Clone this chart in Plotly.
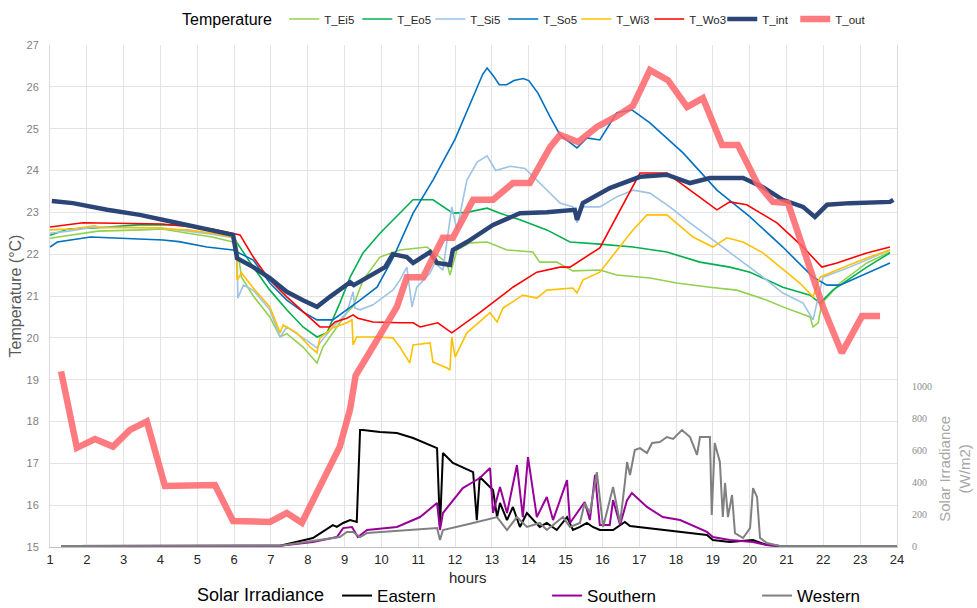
import plotly.graph_objects as go

# ---------------- data (hours of day) ----------------
h_ei5 = [1.0, 1.5, 2.3, 3.5, 4.04, 4.75, 5.4, 5.94, 6.08, 6.2, 6.52, 6.97, 7.25, 7.43, 7.87, 8.25, 8.41, 8.79,
         9.06, 9.23, 9.5, 9.96, 10.5, 11.24, 11.4, 11.78, 11.86, 12.05, 12.4, 12.87, 13.41, 14.11, 14.3, 14.76,
         15.2, 15.93, 16.39, 17.29, 18.02, 18.92, 19.65, 20.47, 20.9, 21.64, 21.72, 21.86, 21.96, 22.45, 23.18, 23.81]
t_ei5 = [22.38, 22.45, 22.55, 22.58, 22.6, 22.5, 22.41, 22.3, 22.2, 21.45, 21.0, 20.5, 20.02, 20.1, 19.78, 19.4, 19.78, 20.26,
         20.6, 20.75, 21.38, 21.93, 22.1, 22.17, 22.05, 21.79, 21.5, 22.1, 22.27, 22.29, 22.1, 22.05, 21.81, 21.81,
         21.6, 21.62, 21.5, 21.43, 21.31, 21.21, 21.14, 20.9, 20.74, 20.5, 20.26, 20.36, 20.83, 21.31, 21.79, 22.05]

h_eo5 = [1.0, 1.5, 2.3, 3.4, 4.7, 5.1, 5.6, 5.97, 6.08, 6.52, 6.97, 7.43, 7.87, 8.25, 8.52, 8.87, 9.15, 9.5, 9.96, 10.31,
         10.86, 11.4, 11.94, 12.32, 12.87, 13.22, 13.76, 14.49, 15.12, 15.93, 16.83, 17.75, 18.65, 19.46, 20.01, 20.9,
         21.64, 21.91, 22.26, 23.18, 23.81]
t_eo5 = [22.45, 22.6, 22.63, 22.7, 22.7, 22.6, 22.55, 22.45, 22.27, 21.69, 21.14, 20.67, 20.26, 20.02, 20.12, 20.83, 21.45,
         22.03, 22.5, 22.82, 23.3, 23.3, 22.98, 23.0, 23.1, 22.98, 22.82, 22.58, 22.29, 22.24, 22.17, 22.05, 21.81, 21.69,
         21.57, 21.21, 21.02, 20.83, 21.14, 21.69, 22.03]

h_si5 = [1.0, 1.5, 2.2, 4.0, 4.75, 5.4, 5.94, 6.08, 6.1, 6.25, 6.52, 6.97, 7.25, 7.43, 7.87, 8.25, 8.33, 8.68, 9.06, 9.23,
         9.28, 9.42, 9.77, 10.31, 10.5, 10.69, 10.83, 10.96, 11.32, 11.45, 11.67, 11.81, 11.91, 12.05, 12.32, 12.6, 12.87,
         13.1, 13.5, 13.9, 14.22, 14.49, 14.85, 15.2, 15.31, 15.47, 15.93, 16.39, 16.83, 17.29, 17.83, 18.38, 19.11, 19.65,
         20.36, 20.9, 21.45, 21.72, 21.83, 21.99, 22.72, 23.81]
t_si5 = [22.5, 22.55, 22.65, 22.63, 22.55, 22.48, 22.4, 22.17, 20.95, 21.26, 21.14, 20.67, 20.02, 20.26, 20.0, 19.76, 19.88,
         20.26, 20.6, 21.1, 20.71, 20.67, 20.79, 21.14, 21.38, 21.69, 20.74, 21.21, 21.55, 21.79, 21.62, 22.58, 23.13, 22.58,
         23.77, 24.2, 24.35, 24.0, 24.1, 24.05, 23.77, 23.53, 23.22, 23.13, 22.75, 23.13, 23.13, 23.37, 23.53, 23.46, 23.13,
         22.75, 22.27, 21.93, 21.45, 21.07, 20.83, 20.43, 20.83, 21.45, 21.69, 22.1]

h_so5 = [1.0, 1.2, 2.1, 4.07, 4.5, 5.26, 5.97, 6.52, 6.97, 7.43, 7.87, 8.25, 8.68, 9.06, 9.42, 9.88, 10.31, 10.86, 11.4,
         12.0, 12.4, 12.75, 12.87, 13.05, 13.2, 13.4, 13.6, 13.85, 14.0, 14.25, 14.58, 14.85, 15.31, 15.58, 15.93, 16.39,
         16.8, 17.29, 18.19, 19.11, 20.01, 20.9, 21.72, 22.1, 22.45, 23.18, 23.81]
t_so5 = [22.17, 22.29, 22.41, 22.34, 22.3, 22.17, 22.1, 21.86, 21.31, 20.9, 20.62, 20.43, 20.43, 20.67, 20.9, 21.21, 21.9,
         22.98, 23.77, 24.75, 25.6, 26.3, 26.45, 26.25, 26.05, 26.05, 26.15, 26.2, 26.15, 25.85, 25.28, 24.85, 24.54, 24.78,
         24.73, 25.38, 25.45, 25.14, 24.42, 23.53, 22.89, 22.17, 21.45, 21.26, 21.26, 21.55, 21.79]

h_wi3 = [1.0, 1.6, 2.2, 2.4, 4.04, 4.1, 4.75, 5.4, 5.94, 6.06, 6.08, 6.2, 6.52, 6.97, 7.25, 7.33, 7.7, 8.06, 8.25, 8.33,
         8.68, 9.06, 9.2, 9.23, 9.33, 9.88, 10.31, 10.5, 10.77, 10.86, 11.32, 11.4, 11.78, 11.86, 11.91, 12.0, 12.32, 12.95,
         13.14, 13.3, 13.84, 14.22, 14.49, 15.2, 15.31, 15.47, 15.93, 16.39, 16.83, 17.21, 17.75, 18.46, 19.0, 19.38, 19.82,
         20.36, 20.82, 21.36, 21.72, 21.91, 22.37, 23.18, 23.81]
t_wi3 = [22.58, 22.6, 22.68, 22.63, 22.63, 22.6, 22.58, 22.5, 22.41, 22.29, 21.38, 21.55, 21.19, 20.74, 20.12, 20.31, 20.12,
         19.78, 19.64, 20.0, 20.24, 20.36, 20.43, 19.83, 20.02, 20.02, 20.0, 19.78, 19.4, 19.83, 19.88, 19.42, 19.28, 19.23,
         20.02, 19.54, 20.12, 20.6, 20.38, 20.71, 21.02, 20.95, 21.14, 21.19, 21.07, 21.38, 21.57, 22.1, 22.58, 22.94, 22.94,
         22.41, 22.17, 22.39, 22.29, 22.03, 21.69, 21.31, 20.98, 21.45, 21.62, 21.91, 22.1]

h_wo3 = [1.0, 1.9, 4.04, 4.75, 5.4, 5.94, 6.16, 6.52, 6.97, 7.43, 7.87, 8.33, 8.6, 8.74, 9.06, 9.23, 9.36, 9.77, 10.5,
         10.86, 11.05, 11.53, 11.91, 12.67, 13.57, 14.22, 14.85, 15.12, 15.93, 16.39, 17.02, 17.75, 18.38, 19.11, 19.46,
         19.92, 20.74, 21.45, 21.96, 22.37, 23.18, 23.81]
t_wo3 = [22.65, 22.75, 22.72, 22.65, 22.6, 22.5, 22.46, 21.93, 21.38, 20.98, 20.62, 20.26, 20.26, 20.38, 20.47, 20.55,
         20.47, 20.38, 20.36, 20.36, 20.26, 20.36, 20.12, 20.6, 21.21, 21.57, 21.69, 21.69, 22.15, 22.89, 23.94, 23.94,
         23.53, 23.06, 23.25, 23.18, 22.75, 22.17, 21.69, 21.79, 22.03, 22.17]

h_int = [1.05, 1.62, 2.55, 3.44, 4.34, 5.26, 5.97, 6.08, 6.52, 6.97, 7.43, 7.87, 8.25, 8.6, 9.15, 9.25, 9.6, 10.1, 10.31,
         10.69, 10.86, 11.32, 11.51, 11.86, 11.94, 12.32, 13.03, 13.76, 14.49, 15.25, 15.31, 15.47, 16.2, 17.02, 17.75,
         18.38, 18.92, 19.82, 20.36, 20.9, 21.45, 21.77, 22.1, 22.72, 23.81, 23.9]
t_int = [23.27, 23.22, 23.06, 22.94, 22.77, 22.58, 22.46, 21.9, 21.69, 21.43, 21.1, 20.9, 20.74, 20.98, 21.33, 21.26,
         21.43, 21.69, 22.0, 21.93, 21.79, 22.05, 21.79, 21.74, 22.1, 22.29, 22.7, 22.98, 23.0, 23.06, 22.82, 23.22, 23.58,
         23.85, 23.9, 23.7, 23.82, 23.82, 23.6, 23.3, 23.13, 22.89, 23.18, 23.22, 23.25, 23.3]

h_out = [1.3, 1.73, 2.22, 2.71, 3.17, 3.63, 4.12, 5.48, 5.97, 6.97, 7.43, 7.84, 8.87, 9.15, 9.3, 9.88, 10.42, 10.69,
         11.13, 11.67, 11.94, 12.49, 13.03, 13.57, 14.03, 14.58, 14.85, 15.34, 15.85, 16.39, 16.83, 17.29, 17.78, 18.3,
         18.73, 19.25, 19.68, 20.2, 20.63, 21.04, 21.55, 21.99, 22.5, 23.05, 23.54]
t_out = [19.2, 17.37, 17.58, 17.4, 17.8, 18.0, 16.46, 16.48, 15.62, 15.6, 15.81, 15.58, 17.4, 18.3, 19.1, 19.95, 20.74,
         21.45, 21.45, 22.39, 22.39, 23.3, 23.3, 23.7, 23.7, 24.56, 24.85, 24.68, 25.04, 25.3, 25.55, 26.4, 26.16, 25.52,
         25.73, 24.61, 24.61, 23.7, 23.25, 23.22, 21.93, 20.74, 19.64, 20.52, 20.52]

h_east = [1.3, 7.0, 7.25, 8.14, 8.68, 8.79, 8.96, 9.15, 9.33, 9.42, 9.5, 9.96, 10.42, 10.86, 11.51, 11.59, 11.67, 11.94,
          12.4, 12.49, 12.59, 12.67, 13.03, 13.14, 13.22, 13.41, 13.57, 13.76, 13.95, 14.3, 14.49, 14.76, 15.04, 15.2,
          15.39, 15.58, 15.74, 15.93, 16.29, 16.61, 16.75, 17.21, 18.11, 18.84, 19.0, 19.46, 20.09, 20.47, 20.82, 24.0]
irr_east = [0, 0, 2, 50, 131, 119, 144, 162, 150, 725, 725, 712, 706, 675, 612, 119, 581, 519, 475, 462, 162, 431, 350,
            181, 269, 162, 244, 119, 206, 119, 144, 100, 181, 100, 119, 144, 119, 100, 100, 150, 125, 112, 88, 69, 37,
            25, 37, 6, 0, 0]

h_south = [1.3, 7.0, 7.25, 8.14, 8.79, 8.96, 9.2, 9.36, 9.61, 10.42, 11.05, 11.51, 11.59, 11.67, 12.21, 12.49, 12.67,
           12.95, 13.03, 13.22, 13.41, 13.68, 13.84, 13.98, 14.22, 14.49, 14.66, 15.04, 15.12, 15.52, 15.66, 15.8, 15.93,
           16.2, 16.29, 16.48, 16.67, 16.8, 17.21, 17.64, 18.11, 18.84, 19.0, 19.46, 20.09, 20.47, 20.82, 24.0]
irr_south = [0, 0, 2, 25, 56, 112, 119, 56, 100, 119, 181, 269, 100, 206, 362, 400, 425, 487, 206, 369, 206, 506, 181,
             556, 181, 306, 162, 412, 144, 275, 162, 444, 131, 131, 287, 131, 287, 331, 244, 181, 162, 88, 56, 37, 25,
             6, 0, 0]

h_west = [1.3, 7.0, 7.25, 8.87, 9.06, 9.23, 9.42, 9.61, 11.51, 11.59, 11.67, 12.49, 13.14, 13.41, 13.68, 13.95, 14.3,
          14.49, 14.93, 15.12, 15.39, 15.52, 15.66, 15.85, 16.02, 16.29, 16.48, 16.61, 16.67, 16.75, 16.88, 17.02, 17.21,
          17.35, 17.56, 17.75, 17.92, 18.16, 18.38, 18.57, 18.65, 18.92, 18.97, 19.05, 19.19, 19.27, 19.33, 19.41, 19.52,
          19.6, 19.82, 20.01, 20.09, 20.2, 20.28, 20.47, 20.82, 24.0]
irr_west = [0, 0, 2, 56, 88, 88, 56, 81, 112, 37, 100, 144, 181, 100, 181, 119, 144, 100, 181, 119, 144, 269, 206, 462,
            119, 369, 144, 394, 525, 444, 600, 612, 581, 644, 650, 681, 669, 725, 681, 569, 681, 681, 194, 644, 525, 181,
            394, 181, 319, 81, 50, 112, 362, 306, 50, 19, 0, 0]

hour_ticks = list(range(1, 25))
temp_ticks = list(range(15, 28))
irr_ticks = [0, 200, 400, 600, 800, 1000]

FONT = "Liberation Sans Narrow, Arial Narrow, Liberation Sans, Arial, sans-serif"

fig = go.Figure()

# irradiance (secondary axis, bottom legend)
for name, hx, vy, col in [("Eastern", h_east, irr_east, "#000000"),
                          ("Southern", h_south, irr_south, "#990099"),
                          ("Western", h_west, irr_west, "#808080")]:
    fig.add_trace(go.Scatter(x=hx, y=vy, name=name, mode="lines", yaxis="y2", legend="legend2",
                             line=dict(color=col, width=2)))

# temperatures (top legend)
temps = [("T_Ei5", h_ei5, t_ei5, "#92D050", 1.6),
         ("T_Eo5", h_eo5, t_eo5, "#00B050", 1.6),
         ("T_Si5", h_si5, t_si5, "#9DC3E6", 1.6),
         ("T_So5", h_so5, t_so5, "#0070C0", 1.6),
         ("T_Wi3", h_wi3, t_wi3, "#FFC000", 1.6),
         ("T_Wo3", h_wo3, t_wo3, "#FF0000", 1.6),
         ("T_int", h_int, t_int, "#2B4577", 4.5),
         ("T_out", h_out, t_out, "rgba(255,100,104,0.85)", 6.5)]
for name, hx, ty, col, w in temps:
    fig.add_trace(go.Scatter(x=hx, y=ty, name=name, mode="lines", legend="legend",
                             line=dict(color=col, width=w)))

fig.update_layout(
    width=977, height=608,
    margin=dict(l=50, r=80, t=45, b=61, autoexpand=False),
    paper_bgcolor="white", plot_bgcolor="white",
    font=dict(family=FONT, color="#262626"),
    xaxis=dict(range=[1, 24], tickvals=hour_ticks, showgrid=True, gridcolor="#e3e3e3", gridwidth=1,
               showline=True, linecolor="#bfbfbf", zeroline=False, automargin=False,
               ticks="", tickfont=dict(size=13, color="#262626")),
    yaxis=dict(range=[15, 27], tickvals=temp_ticks, showgrid=True, gridcolor="#e3e3e3", zeroline=False,
               showline=True, linecolor="#d9d9d9", ticks="outside", ticklen=8, tickcolor="rgba(0,0,0,0)",
               automargin=False,
               tickfont=dict(size=11, color="#7f7f7f", family="Liberation Sans, Arial"),
               title=dict(text="Temperature (°C)", font=dict(size=16, color="#595959", family="Liberation Sans, Arial"),
                          standoff=0)),
    yaxis2=dict(overlaying="y", side="right", range=[-6.25, 3131.25], tickvals=irr_ticks, showgrid=False,
                zeroline=False, showline=True, linecolor="#d9d9d9", ticks="outside", ticklen=12,
                tickcolor="rgba(0,0,0,0)", automargin=False,
                tickfont=dict(size=10, color="#8c8c8c", family="Liberation Serif, serif")),
    legend=dict(orientation="h", xref="container", yref="container", x=180 / 977, xanchor="left",
                y=1 - 20 / 608, yanchor="middle", entrywidth=28, entrywidthmode="pixels",
                title=dict(text="Temperature ", font=dict(size=16, color="#000000")),
                font=dict(size=11.5, color="#262626"), bgcolor="rgba(0,0,0,0)", traceorder="normal"),
    legend2=dict(orientation="h", xref="container", yref="container", x=195 / 977, xanchor="left",
                 y=1 - 596 / 608, yanchor="middle", entrywidth=165, entrywidthmode="pixels",
                 title=dict(text="Solar Irradiance ", font=dict(size=18, color="#000000")),
                 font=dict(size=17, color="#000000"), bgcolor="rgba(0,0,0,0)"),
    annotations=[dict(text="Solar Irradiance<br>(W/m2)", xref="paper", yref="paper", x=1.068, y=0.155,
                      xanchor="center", yanchor="middle", textangle=-90, showarrow=False,
                      font=dict(size=15, color="#a6a6a6", family="Liberation Sans, Arial")),
                 dict(text="hours", xref="paper", yref="paper", x=0.4935, y=-0.0598,
                      xanchor="center", yanchor="middle", showarrow=False,
                      font=dict(size=15, color="#262626"))],
)

fig.write_html("out.html")
